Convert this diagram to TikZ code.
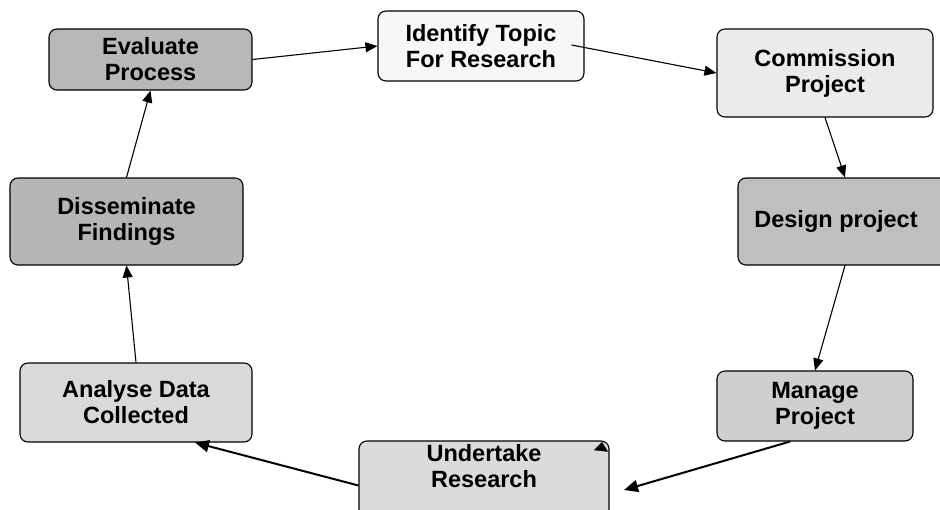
\documentclass[tikz,border=0pt]{standalone}
\usepackage{fontspec}
\setmainfont{Liberation Sans}
\usepackage{tikz}
\usetikzlibrary{arrows.meta, positioning}

\begin{document}
\begin{tikzpicture}[
    x=1pt, y=-1pt,
    stage/.style={draw, line width=1.1pt, rounded corners=8pt, align=center, inner sep=0pt,
        font=\fontsize{23.5}{26}\selectfont\bfseries},
    stagetext/.style={align=center, inner sep=0pt, font=\fontsize{23.5}{26}\selectfont\bfseries},
    arrow/.style={-{Triangle[length=12pt, width=10pt]}, line width=1.1pt},
    bigarrow/.style={-{Triangle[length=14pt, width=12pt]}, line width=2pt}
]
    \path[use as bounding box, clip] (0,0) rectangle (940,509);

    % Stages round the cycle
    \node[stage, fill=black!28, minimum width=203pt, minimum height=61pt] (evaluate) at (150.5,59.5) {Evaluate\\Process};
    \node[stage, fill=black!3, minimum width=206pt, minimum height=70pt] (identify) at (481,46) {Identify Topic\\For Research};
    \node[stage, fill=black!8, minimum width=216pt, minimum height=88pt] (commission) at (825,73) {Commission\\Project};
    \node[stage, fill=black!25, minimum width=214pt, minimum height=87pt] (design) at (845,221.5) {};
    \node[stagetext] (designtext) at (836,221.5) {Design project};
    \node[stage, fill=black!19, minimum width=196pt, minimum height=70pt] (manage) at (815,406) {Manage\\Project};
    \node[stage, fill=black!14, minimum width=250pt, minimum height=89pt] (undertake) at (484,485.5) {};
    \node[stagetext] (undertaketext) at (484,466) {Undertake\\Research};
    \node[stage, fill=black!15, minimum width=232pt, minimum height=79pt] (analyse) at (136,402.5) {Analyse Data\\Collected};
    \node[stage, fill=black!29, minimum width=233pt, minimum height=87pt] (disseminate) at (126.5,221.5) {Disseminate\\Findings};

    % Loose ends
    \coordinate (undertakein) at (624,490);
    \coordinate (tipfrom) at (601,451);
    \coordinate (tipto) at (602,442);

    % Connections
    \draw[arrow] (evaluate.east) -- (identify.west);
    \draw[arrow] ([xshift=-13pt, yshift=1pt]identify.east) -- (commission.west);
    \draw[arrow] (commission.south) -- (design.north);
    \draw[arrow] (design.south) -- (manage.north);
    \draw[bigarrow] ([xshift=-25pt]manage.south) -- (undertakein);
    \draw[bigarrow] (undertake.west) -- ([xshift=59pt]analyse.south);
    \draw[arrow] (analyse.north) -- (disseminate.south);
    \draw[arrow] (disseminate.north) -- (evaluate.south);
    \draw[-{Triangle[length=9pt, width=14pt]}, line width=0.5pt] (tipfrom) -- (tipto);
\end{tikzpicture}
\end{document}
